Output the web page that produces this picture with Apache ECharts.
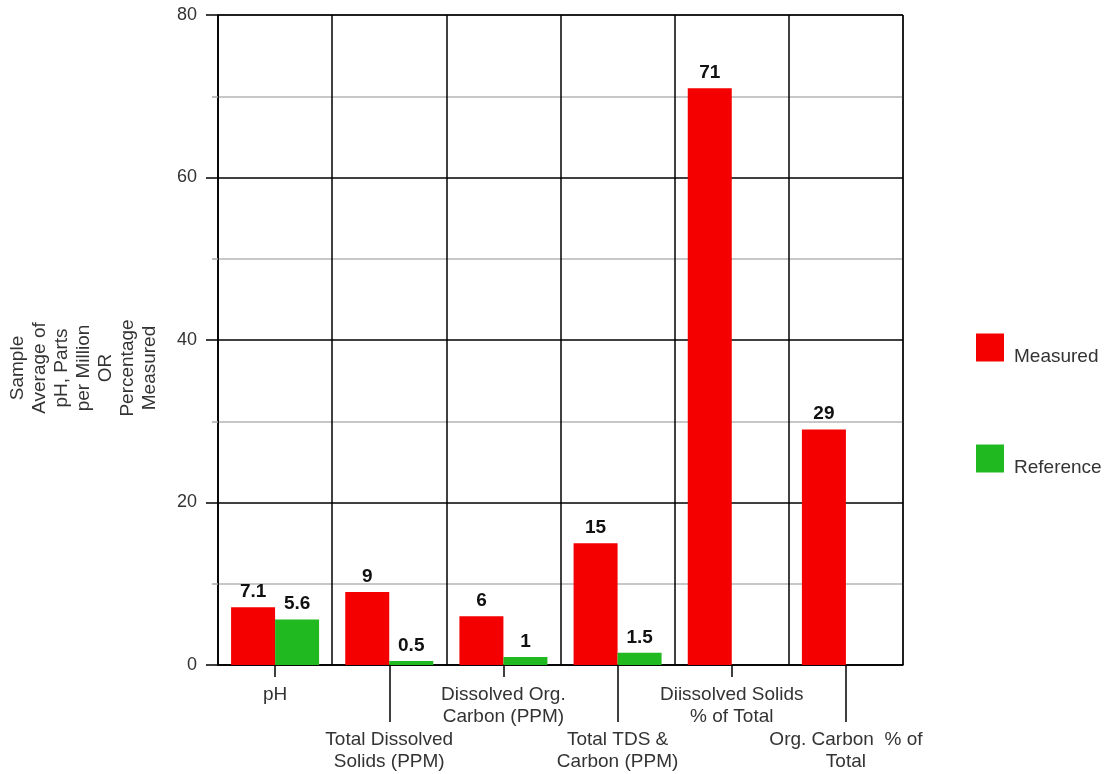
<!DOCTYPE html>
<html>
<head>
<meta charset="utf-8">
<script src="https://cdn.jsdelivr.net/npm/echarts@6/dist/echarts.min.js"></script>
<style>
html,body{margin:0;padding:0;background:#fff;}
#chart{width:1113px;height:774px;}
</style>
</head>
<body>
<div id="chart"></div>
<script>
const categories = ['pH', 'Total Dissolved\nSolids (PPM)', 'Dissolved Org.\nCarbon (PPM)', 'Total TDS &\nCarbon (PPM)', 'Diissolved Solids\n% of Total', 'Org. Carbon  % of\nTotal'];
const measured = [7.1, 9, 6, 15, 71, 29];
const reference = [5.6, 0.5, 1, 1.5, null, null];
const seriesNames = ['Measured', 'Reference'];
const yAxisTitle = 'Sample\nAverage of\npH, Parts\nper Million\nOR\nPercentage\nMeasured';
const yMin = 0, yMax = 80, yStep = 20;

const FONT = 'Liberation Sans';
const chart = echarts.init(document.getElementById('chart'), null, {renderer: 'canvas'});
const isUpper = (i) => i % 2 === 0;
const isLower = (i) => i % 2 === 1;

chart.setOption({
  backgroundColor: '#fff',
  animation: false,
  textStyle: {fontFamily: FONT},
  grid: {left: 218, right: 210, top: 15, bottom: 109, show: true, borderColor: '#000', borderWidth: 1, containLabel: false},
  legend: {
    orient: 'vertical',
    left: 976,
    top: 329,
    padding: 0,
    itemWidth: 28,
    itemHeight: 28,
    itemGap: 74,
    icon: 'rect',
    data: seriesNames,
    formatter: (name) => '\n' + name,
    textStyle: {fontFamily: FONT, fontSize: 19, color: '#333', lineHeight: 18, padding: [0, 0, 0, 5]}
  },
  graphic: [{
    type: 'text',
    x: 84,
    y: 368,
    rotation: Math.PI / 2,
    style: {
      text: yAxisTitle,
      fontFamily: FONT,
      fontSize: 19,
      lineHeight: 22,
      fill: '#333',
      align: 'center',
      verticalAlign: 'middle'
    }
  }],
  xAxis: [{
    type: 'category',
    data: categories,
    position: 'bottom',
    axisLine: {show: true, lineStyle: {color: '#000', width: 1.5}},
    axisTick: {show: true, alignWithLabel: true, length: 12, interval: isUpper, lineStyle: {color: '#000', width: 1.5}},
    axisLabel: {interval: isUpper, margin: 19, fontFamily: FONT, fontSize: 19, lineHeight: 22, color: '#333'},
    splitLine: {show: true, interval: 0, lineStyle: {color: '#000', width: 1.5}}
  }, {
    type: 'category',
    data: categories,
    position: 'bottom',
    axisLine: {show: false},
    axisTick: {show: true, alignWithLabel: true, length: 57, interval: isLower, lineStyle: {color: '#000', width: 1.5}},
    axisLabel: {interval: isLower, margin: 64, fontFamily: FONT, fontSize: 19, lineHeight: 22, color: '#333'},
    splitLine: {show: false}
  }],
  yAxis: {
    type: 'value',
    min: yMin,
    max: yMax,
    interval: yStep,
    axisLine: {show: true, lineStyle: {color: '#000', width: 1.5}},
    axisTick: {show: true, length: 12, lineStyle: {color: '#000', width: 1.5}},
    minorTick: {show: true, splitNumber: 2, length: 6, lineStyle: {color: '#aaa', width: 1.5}},
    minorSplitLine: {show: true, lineStyle: {color: '#b5b5b5', width: 1.5}},
    splitLine: {show: true, lineStyle: {color: '#000', width: 1.5}},
    axisLabel: {margin: 21, fontFamily: FONT, fontSize: 18, color: '#333'}
  },
  series: [{
    name: seriesNames[0],
    type: 'bar',
    xAxisIndex: 0,
    data: measured,
    barWidth: 44,
    barGap: '0%',
    itemStyle: {color: '#f40000'},
    label: {show: true, position: 'top', distance: 6, fontFamily: FONT, fontSize: 19, fontWeight: 'bold', color: '#111'}
  }, {
    name: seriesNames[1],
    type: 'bar',
    xAxisIndex: 0,
    data: reference,
    barWidth: 44,
    barGap: '0%',
    itemStyle: {color: '#20b920'},
    label: {show: true, position: 'top', distance: 6, fontFamily: FONT, fontSize: 19, fontWeight: 'bold', color: '#111'}
  }]
});
</script>
</body>
</html>
